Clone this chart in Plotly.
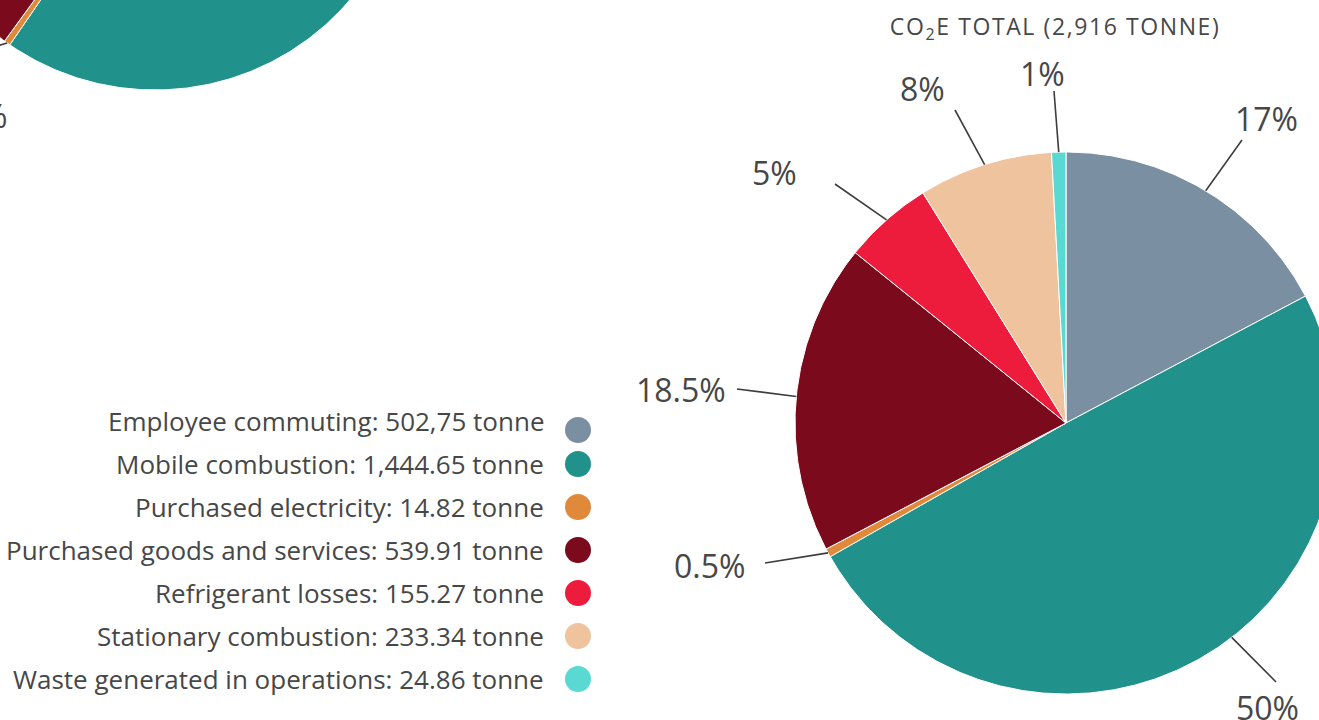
import math
import plotly.graph_objects as go

# ---------------- data ----------------
categories = ["Employee commuting", "Mobile combustion", "Purchased electricity",
              "Purchased goods and services", "Refrigerant losses",
              "Stationary combustion", "Waste generated in operations"]
tonnes = [502.75, 1444.65, 14.82, 539.91, 155.27, 233.34, 24.86]
legend_values = ["502,75", "1,444.65", "14.82", "539.91", "155.27", "233.34", "24.86"]
pct_labels = ["17%", "50%", "0.5%", "18.5%", "5%", "8%", "1%"]
total_label = "2,916"

# partially visible (cropped) pie at the top-left, shares (%)
prev_shares = [20.0, 39.6, 0.4, 21.0, 6.0, 11.0, 2.0]
prev_pct_labels = ["", "", "0.5%", "", "", "", ""]

colors = ["#7b8fa3", "#21918b", "#e0893a", "#7a0a1c", "#ed1c3c", "#eec39d", "#5ad8d2"]

# ---------------- layout constants ----------------
W, H = 1319, 720
FONT = "'Open Sans', Lato, sans-serif"
TXT = "#474747"
MAIN = dict(cx=1066, cy=423, r=271)
PREV = dict(cx=155, cy=-166, r=256)
# leader line ends and label anchors for the main pie (x, y, xanchor)
leader_ends = [(1242, 140), (1276, 682), (765, 563), (737, 389), (835, 184), (955, 110), (1054, 91)]
label_pos = [(1266, 118, "center"), (1267, 707, "center"), (747, 565, "right"),
             (728, 389, "right"), (774, 172, "center"), (922, 88, "center"), (1042, 73, "center")]
anchor_override = {1: 142.3}  # bearing (deg) where the leader of slice 1 meets the pie


def pt(c, r, b):
    rad = math.radians(b)
    return c["cx"] + r * math.sin(rad), c["cy"] - r * math.cos(rad)


def wedge(c, b0, b1):
    n = max(2, int((b1 - b0) / 0.5) + 1)
    xs, ys = [c["cx"]], [c["cy"]]
    for i in range(n + 1):
        x, y = pt(c, c["r"], b0 + (b1 - b0) * i / n)
        xs.append(x)
        ys.append(y)
    xs.append(c["cx"])
    ys.append(c["cy"])
    return xs, ys


def bearings(vals):
    tot = sum(vals)
    out, acc = [], 0.0
    for v in vals:
        b0 = acc / tot * 360
        acc += v
        out.append((b0, acc / tot * 360))
    return out


fig = go.Figure()

# pies
for c, vals in ((PREV, prev_shares), (MAIN, tonnes)):
    for (b0, b1), col in zip(bearings(vals), colors):
        xs, ys = wedge(c, b0, b1)
        fig.add_trace(go.Scatter(x=xs, y=ys, mode="lines", fill="toself",
                                 fillcolor=col, line=dict(color="white", width=1),
                                 hoverinfo="skip"))

# leader lines main pie
for i, ((b0, b1), end) in enumerate(zip(bearings(tonnes), leader_ends)):
    b = anchor_override.get(i, (b0 + b1) / 2)
    sx, sy = pt(MAIN, MAIN["r"], b)
    fig.add_trace(go.Scatter(x=[sx, end[0]], y=[sy, end[1]], mode="lines",
                             line=dict(color="#3d3d3d", width=1.6), hoverinfo="skip"))

annotations = []
for lab, (x, y, xa) in zip(pct_labels, label_pos):
    annotations.append(dict(x=x, y=y, xref="x", yref="y", text=lab, showarrow=False,
                            xanchor=xa, yanchor="middle",
                            font=dict(family=FONT, size=32, color=TXT)))

# leader line + label of the cropped pie
for (b0, b1), lab in zip(bearings(prev_shares), prev_pct_labels):
    if lab:
        bm = (b0 + b1) / 2
        sx, sy = pt(PREV, PREV["r"], bm)
        ex, ey = pt(PREV, PREV["r"] + 60, bm + 8)
        fig.add_trace(go.Scatter(x=[sx, ex], y=[sy, ey], mode="lines",
                                 line=dict(color="#3d3d3d", width=1.6), hoverinfo="skip"))
        annotations.append(dict(x=9, y=115, xref="x", yref="y", text=lab, showarrow=False,
                                xanchor="right", yanchor="middle",
                                font=dict(family=FONT, size=32, color=TXT)))

# title
annotations.append(dict(x=1055, y=27, xref="x", yref="y",
                        text="CO<sub>2</sub>E TOTAL (" + total_label + " TONNE)",
                        showarrow=False, xanchor="center", yanchor="middle",
                        font=dict(family=FONT, size=23, color=TXT)))

# legend
row_y = [421 + 43 * i for i in range(len(categories))]
dot_y = [y for y in row_y]
dot_y[0] = row_y[0] + 9
for cat, val, y in zip(categories, legend_values, row_y):
    annotations.append(dict(x=546, y=y, xref="x", yref="y",
                            text=f"{cat}: {val} tonne", showarrow=False,
                            xanchor="right", yanchor="middle",
                            font=dict(family=FONT, size=26, color=TXT)))
fig.add_trace(go.Scatter(x=[578] * len(categories), y=dot_y, mode="markers",
                         marker=dict(size=26, color=colors, line=dict(width=0)),
                         hoverinfo="skip"))

fig.update_layout(
    width=W, height=H, margin=dict(l=0, r=0, t=0, b=0),
    paper_bgcolor="white", plot_bgcolor="white", showlegend=False,
    xaxis=dict(range=[0, W], visible=False, fixedrange=True),
    yaxis=dict(range=[H, 0], visible=False, fixedrange=True),
    annotations=annotations,
)

post = """
document.body.style.margin='0';
document.querySelectorAll('text.annotation-text').forEach(function(t){
  if (t.textContent.indexOf('TOTAL') >= 0) { t.style.letterSpacing = '1.6px'; }
});
"""
fig.write_html("out.html", config={"displayModeBar": False}, post_script=post)
